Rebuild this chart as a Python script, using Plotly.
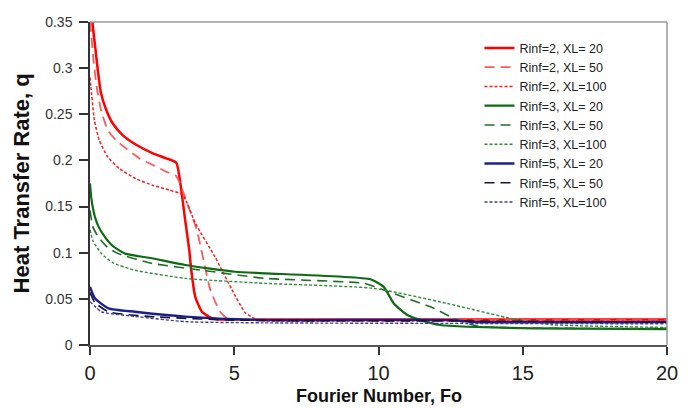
import plotly.graph_objects as go

# ---- data ----
fo_r2_20 = [0.02, 0.09, 0.18, 0.27, 0.38, 0.56, 0.79, 1.13, 1.6, 2.18, 2.64, 2.99, 3.18, 3.30, 3.44, 3.51, 3.65, 3.88, 4.22, 4.6, 6, 10, 15, 20]
q_r2_20 = [0.42, 0.348, 0.323, 0.298, 0.273, 0.255, 0.240, 0.2275, 0.217, 0.2077, 0.2023, 0.1975, 0.164, 0.135, 0.103, 0.081, 0.052, 0.036, 0.029, 0.0275, 0.0275, 0.0275, 0.0275, 0.0275]

fo_r2_50 = [0.0, 0.03, 0.12, 0.23, 0.38, 0.61, 0.9, 1.25, 1.71, 2.18, 2.64, 2.99, 3.41, 3.70, 3.88, 4.17, 4.51, 4.8, 6, 10, 15, 20]
q_r2_50 = [0.35, 0.341, 0.309, 0.28, 0.255, 0.233, 0.222, 0.213, 0.2023, 0.195, 0.1878, 0.183, 0.150, 0.125, 0.10, 0.060, 0.036, 0.028, 0.027, 0.027, 0.027, 0.027]

fo_r2_100 = [0.0, 0.03, 0.15, 0.32, 0.61, 1.02, 1.6, 2.18, 2.75, 3.22, 3.65, 4.34, 4.92, 5.38, 5.83, 6.3, 10, 15, 20]
q_r2_100 = [0.29, 0.28, 0.244, 0.222, 0.204, 0.191, 0.18, 0.173, 0.168, 0.1625, 0.132, 0.095, 0.060, 0.035, 0.027, 0.026, 0.026, 0.026, 0.026]

fo_r3_20 = [0.0, 0.05, 0.17, 0.3, 0.52, 0.8, 1.22, 2.14, 3.3, 5.03, 6.08, 9.72, 10.18, 10.53, 11.0, 11.46, 12.15, 13.08, 15.4, 20]
q_r3_20 = [0.175, 0.158, 0.139, 0.128, 0.117, 0.107, 0.099, 0.094, 0.0867, 0.0794, 0.0777, 0.0712, 0.063, 0.045, 0.0325, 0.027, 0.0217, 0.0198, 0.018, 0.0173]

fo_r3_50 = [0.0, 0.1, 0.29, 0.6, 0.98, 2.14, 3.88, 6.08, 9.49, 10.18, 11.9, 12.73, 13.5, 20]
q_r3_50 = [0.146, 0.128, 0.117, 0.106, 0.099, 0.0885, 0.081, 0.0722, 0.0668, 0.0596, 0.040, 0.027, 0.020, 0.018]

fo_r3_100 = [0.0, 0.1, 0.4, 0.8, 1.56, 3.3, 6.08, 9.84, 12.38, 14.7, 16, 20]
q_r3_100 = [0.125, 0.113, 0.099, 0.089, 0.081, 0.0722, 0.0668, 0.0614, 0.045, 0.028, 0.022, 0.019]

fo_r5_20 = [0.0, 0.17, 0.64, 1.56, 3.3, 6.08, 12.5, 13.3, 20]
q_r5_20 = [0.063, 0.0506, 0.0397, 0.036, 0.0307, 0.027, 0.027, 0.025, 0.025]

fo_r5_50 = [0.0, 0.17, 0.64, 2.0, 5.0, 12.5, 20]
q_r5_50 = [0.057, 0.046, 0.036, 0.031, 0.027, 0.026, 0.025]

fo_r5_100 = [0.0, 0.4, 1.56, 3.3, 6.0, 20]
q_r5_100 = [0.047, 0.036, 0.031, 0.0253, 0.024, 0.023]

series_names = ["Rinf=2, XL= 20", "Rinf=2, XL= 50", "Rinf=2, XL=100",
                "Rinf=3, XL= 20", "Rinf=3, XL= 50", "Rinf=3, XL=100",
                "Rinf=5, XL= 20", "Rinf=5, XL= 50", "Rinf=5, XL=100"]

x_tickvals = [0, 5, 10, 15, 20]
x_ticktext = ["0", "5", "10", "15", "20"]
y_tickvals = [0, 0.05, 0.1, 0.15, 0.2, 0.25, 0.3, 0.35]
y_ticktext = ["0", "0.05", "0.1", "0.15", "0.2", "0.25", "0.3", "0.35"]

x_title = "Fourier Number, Fo"
y_title = "Heat Transfer Rate, q"

# ---- styles ----
styles = [
    dict(color="#FF0000", width=2.5, dash="solid"),
    dict(color="#FF5A5A", width=1.8, dash="10px,6px"),
    dict(color="#FF1A1A", width=1.5, dash="3px,2px"),
    dict(color="#0E6A12", width=2.2, dash="solid"),
    dict(color="#1F6E24", width=1.6, dash="10px,6px"),
    dict(color="#2E8A33", width=1.4, dash="3px,2px"),
    dict(color="#1B1F8A", width=2.4, dash="solid"),
    dict(color="#14143E", width=1.6, dash="10px,6px"),
    dict(color="#3A3A9E", width=1.4, dash="3px,2px"),
]

xs = [fo_r2_20, fo_r2_50, fo_r2_100, fo_r3_20, fo_r3_50, fo_r3_100, fo_r5_20, fo_r5_50, fo_r5_100]
ys = [q_r2_20, q_r2_50, q_r2_100, q_r3_20, q_r3_50, q_r3_100, q_r5_20, q_r5_50, q_r5_100]

fig = go.Figure()
for name, x, y, st in zip(series_names, xs, ys, styles):
    line = dict(st, shape="spline", smoothing=0.5)
    fig.add_trace(go.Scatter(x=x, y=y, mode="lines", name=name, line=line))

font_family = "Arial, Liberation Sans, sans-serif"

fig.update_layout(
    width=694, height=408,
    margin=dict(l=90, r=27, t=22, b=63, autoexpand=False),
    paper_bgcolor="white", plot_bgcolor="white",
    font=dict(family=font_family, color="#222"),
    showlegend=True,
    legend=dict(x=0.675, y=0.965, xanchor="left", yanchor="top",
                bgcolor="rgba(255,255,255,0)", font=dict(size=12.5, color="#222"),
                tracegroupgap=0, itemwidth=30),
    xaxis=dict(range=[0, 20], tickvals=x_tickvals, ticktext=x_ticktext,
               showgrid=False, zeroline=False, showline=True, linecolor="#555", linewidth=2,
               ticks="outside", ticklen=8, tickcolor="#333", tickwidth=1.5,
               tickfont=dict(size=20, color="#222"), ticklabelstandoff=1),
    yaxis=dict(range=[0, 0.35], tickvals=y_tickvals, ticktext=y_ticktext,
               showgrid=False, zeroline=False, showline=True, linecolor="#333", linewidth=1.5,
               ticks="outside", ticklen=9, tickcolor="#333", tickwidth=1.5,
               tickfont=dict(size=14, color="#333"), ticklabelstandoff=4),
    annotations=[
        dict(text="<b>" + x_title + "</b>", xref="paper", yref="paper", x=0.5, y=-0.157,
             xanchor="center", yanchor="middle", showarrow=False,
             font=dict(size=18, color="#111")),
        dict(text="<b>" + y_title + "</b>", xref="paper", yref="paper", x=-0.118, y=0.5,
             xanchor="center", yanchor="middle", textangle=-90, showarrow=False,
             font=dict(size=22, color="#111")),
    ],
    shapes=[
        dict(type="line", xref="paper", yref="paper", x0=0, x1=1, y0=1, y1=1,
             line=dict(color="#999", width=1.5)),
        dict(type="line", xref="paper", yref="paper", x0=1, x1=1, y0=0, y1=1,
             line=dict(color="#999", width=1.5)),
    ],
)

fig.write_html("out.html")
